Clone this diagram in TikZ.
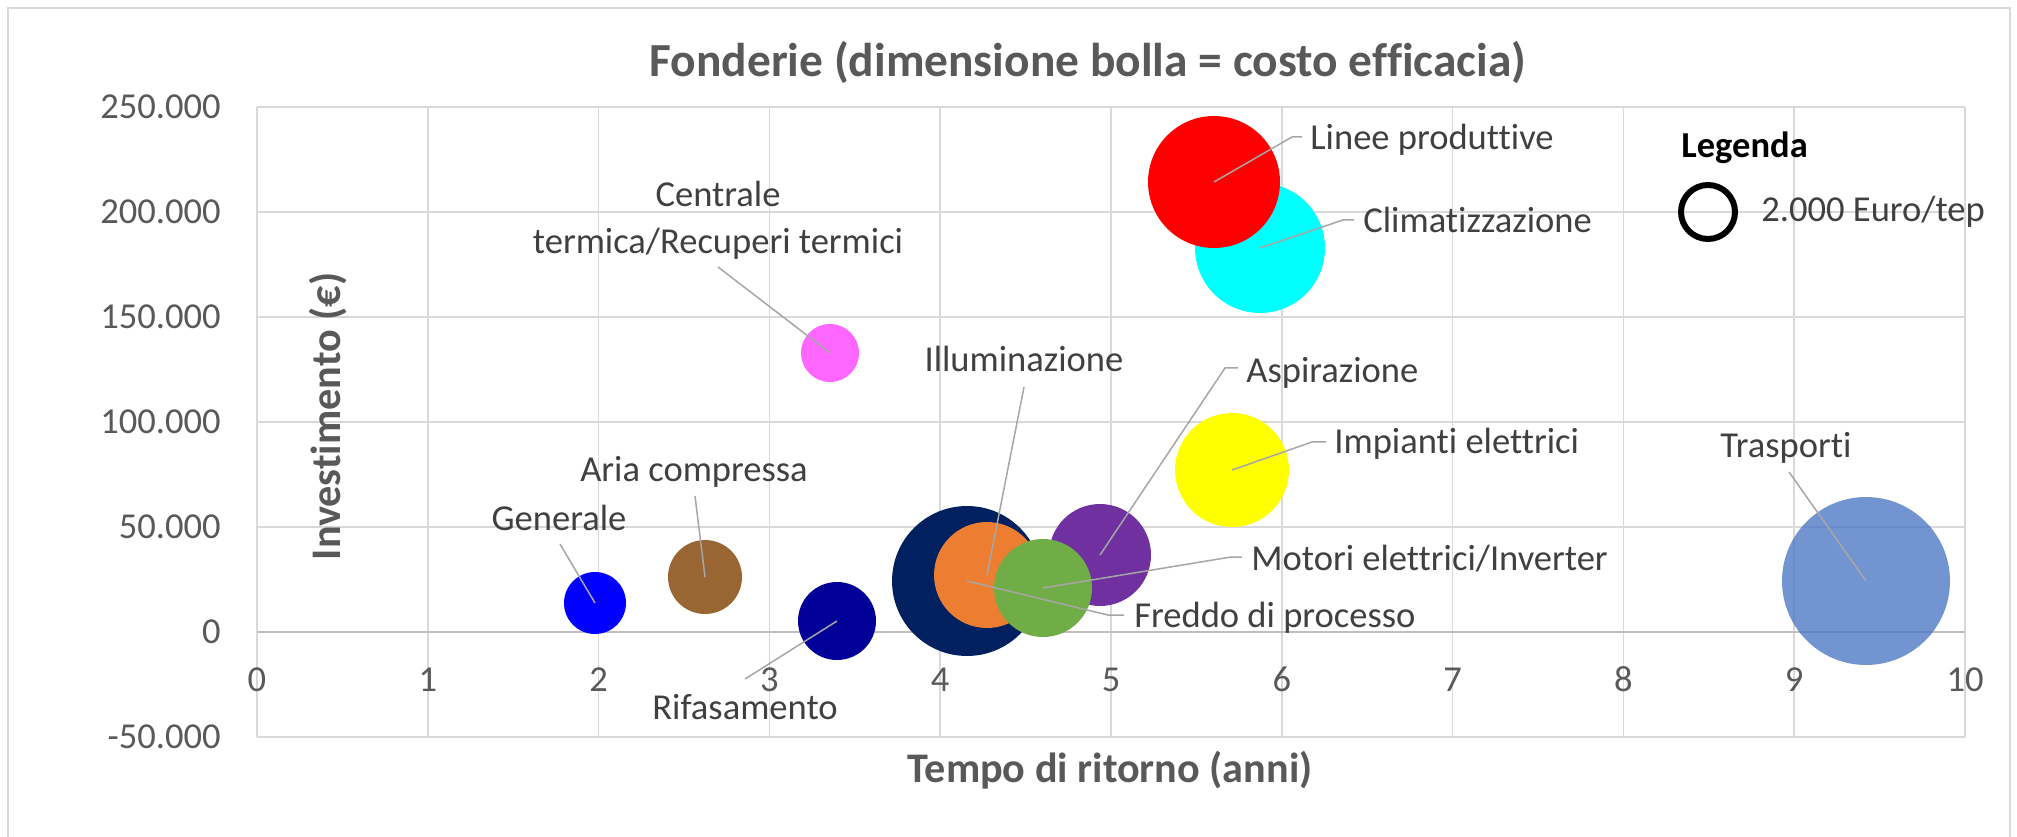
\documentclass[tikz,border=0pt]{standalone}
\usepackage{fontspec}
\setmainfont[Ligatures=NoCommon]{Carlito}
\definecolor{gridc}{HTML}{D9D9D9}
\definecolor{zeroc}{HTML}{BFBFBF}
\definecolor{leadc}{HTML}{A6A6A6}
\definecolor{labc}{HTML}{404040}
\definecolor{tickc}{HTML}{595959}
\definecolor{cnavy}{HTML}{002060}
\definecolor{corange}{HTML}{ED7D31}
\definecolor{cgreen}{HTML}{70AD47}
\definecolor{cpurple}{HTML}{7030A0}
\definecolor{cyellow}{HTML}{FFFF00}
\definecolor{ccyan}{HTML}{00FFFF}
\definecolor{cred}{HTML}{FF0000}
\definecolor{crifa}{HTML}{000099}
\definecolor{caria}{HTML}{996633}
\definecolor{cgen}{HTML}{0000FF}
\definecolor{cpink}{HTML}{FF66FF}
\definecolor{ctrasp}{HTML}{4472C4}
\newcommand{\lblfont}{\fontsize{20.8}{25}\selectfont}
\newcommand{\axfont}{\fontsize{24}{29}\selectfont\bfseries}
\newcommand{\ttlfont}{\fontsize{27}{32}\selectfont\bfseries}
\begin{document}
\begin{tikzpicture}[x=0.02cm,y=-0.02cm,
  gridline/.style={draw=gridc,line width=0.03cm},
  zeroline/.style={draw=zeroc,line width=0.035cm},
  leader/.style={draw=leadc,line width=0.03cm},
  bub/.style={circle,inner sep=0pt,draw=none},
  lbl/.style={font=\lblfont,text=labc,inner sep=0pt},
  tick/.style={font=\lblfont,text=tickc,inner sep=0pt},
  axt/.style={font=\axfont,text=tickc,inner sep=0pt}]
\useasboundingbox (0,0) rectangle (2017,837);
\fill[white] (0,0) rectangle (2017,837);
\begin{scope}
\clip (0,0) rectangle (2017,837);
\draw[gridline] (8,8) rectangle (2010,870);
\end{scope}
% grid
\foreach \u in {0,...,10} \draw[gridline] ({257+170.8*\u},107) -- ({257+170.8*\u},737);
\foreach \v in {0,...,6} \draw[gridline] (257,{107+105*\v}) -- (1965,{107+105*\v});
\draw[zeroline] (257,632) -- (1965,632);
% tick labels
\foreach \u in {0,...,10} \node[tick,anchor=base] (xt\u) at ({257+170.8*\u},691) {\u};
\foreach \t/\yy [count=\i] in {250.000/107,200.000/212,150.000/317,100.000/422,50.000/527,0/632,-50.000/737}
  \node[tick,anchor=base east] (yt\i) at (221,{\yy+11.5}) {\t};
% titles
\node[font=\ttlfont,text=tickc,inner sep=0pt,anchor=base] (title) at (1088,77) {Fonderie (dimensione bolla = costo efficacia)};
\node[axt,anchor=base] (xtitle) at (1110,782) {Tempo di ritorno (anni)};
\node[axt,anchor=base,rotate=90] (ytitle) at (340,416.5) {Investimento (€)};
% bubbles
\node[bub,fill=ctrasp,fill opacity=0.75,minimum size=3.36cm] (trasp) at (1866,581) {};
\node[bub,fill=cnavy,minimum size=3.00cm] (freddo) at (967,581) {};
\node[bub,fill=ccyan,minimum size=2.60cm] (clima) at (1260,248) {};
\node[bub,fill=cred,minimum size=2.64cm] (linee) at (1214,182) {};
\node[bub,fill=cyellow,minimum size=2.28cm] (impianti) at (1232,470) {};
\node[bub,fill=corange,minimum size=2.12cm] (illum) at (987,575) {};
\node[bub,fill=cpurple,minimum size=2.04cm] (aspir) at (1100,555) {};
\node[bub,fill=cgreen,minimum size=1.96cm] (motori) at (1043,588) {};
\node[bub,fill=crifa,minimum size=1.56cm] (rifa) at (837,621) {};
\node[bub,fill=caria,minimum size=1.48cm] (aria) at (705,577) {};
\node[bub,fill=cgen,minimum size=1.24cm] (gen) at (595,603) {};
\node[bub,fill=cpink,minimum size=1.16cm] (centr) at (830,353) {};
% leader coordinates
\coordinate (pLa) at (1292,137); \coordinate (pLb) at (1302,137);
\coordinate (pCa) at (1343,220); \coordinate (pCb) at (1354,220);
\coordinate (pCe) at (718,267);
\coordinate (pIl) at (1024,387);
\coordinate (pAa) at (1225,368); \coordinate (pAb) at (1238,368);
\coordinate (pIa) at (1312,442); \coordinate (pIb) at (1326,442);
\coordinate (pTr) at (1789,472);
\coordinate (pMa) at (1231,557); \coordinate (pMb) at (1242,557);
\coordinate (pFa) at (1108,615); \coordinate (pFb) at (1124,615);
\coordinate (pAr) at (695,496);
\coordinate (pGe) at (560,544);
\coordinate (pRi) at (745,679);
\draw[leader] (linee.center) -- (pLa) -- (pLb);
\draw[leader] (clima.center) -- (pCa) -- (pCb);
\draw[leader] (centr.center) -- (pCe);
\draw[leader] (illum.center) -- (pIl);
\draw[leader] (aspir.center) -- (pAa) -- (pAb);
\draw[leader] (impianti.center) -- (pIa) -- (pIb);
\draw[leader] (trasp.center) -- (pTr);
\draw[leader] (motori.center) -- (pMa) -- (pMb);
\draw[leader] (freddo.center) -- (pFa) -- (pFb);
\draw[leader] (aria.center) -- (pAr);
\draw[leader] (gen.center) -- (pGe);
\draw[leader] (rifa.center) -- (pRi);
% labels
\node[lbl,anchor=base west] (tLinee) at (1310,150) {Linee produttive};
\node[lbl,anchor=base west] (tClima) at (1363,233) {Climatizzazione};
\node[lbl,anchor=base] (tCen1) at (718,207) {Centrale};
\node[lbl,anchor=base] (tCen2) at (718,254) {termica/Recuperi termici};
\node[lbl,anchor=base] (tIllum) at (1024,372) {Illuminazione};
\node[lbl,anchor=base west] (tAspir) at (1246,383) {Aspirazione};
\node[lbl,anchor=base west] (tImp) at (1334,454) {Impianti elettrici};
\node[lbl,anchor=base west] (tTrasp) at (1720,458) {Trasporti};
\node[lbl,anchor=base west] (tMot) at (1251,570) {Motori elettrici/Inverter};
\node[lbl,anchor=base west] (tFred) at (1134,627) {Freddo di processo};
\node[lbl,anchor=base] (tAria) at (694,481) {Aria compressa};
\node[lbl,anchor=base] (tGen) at (559,530) {Generale};
\node[lbl,anchor=base] (tRifa) at (745,719) {Rifasamento};
% legend
\node[font=\lblfont\bfseries,text=black,inner sep=0pt,anchor=base west] (legT) at (1681,158) {Legenda};
\node[circle,draw=black,line width=0.12cm,inner sep=0pt,minimum size=1.08cm] (legC) at (1708,212) {};
\node[lbl,anchor=base west] (legV) at (1761,222) {2.000 Euro/tep};
\end{tikzpicture}
\end{document}
